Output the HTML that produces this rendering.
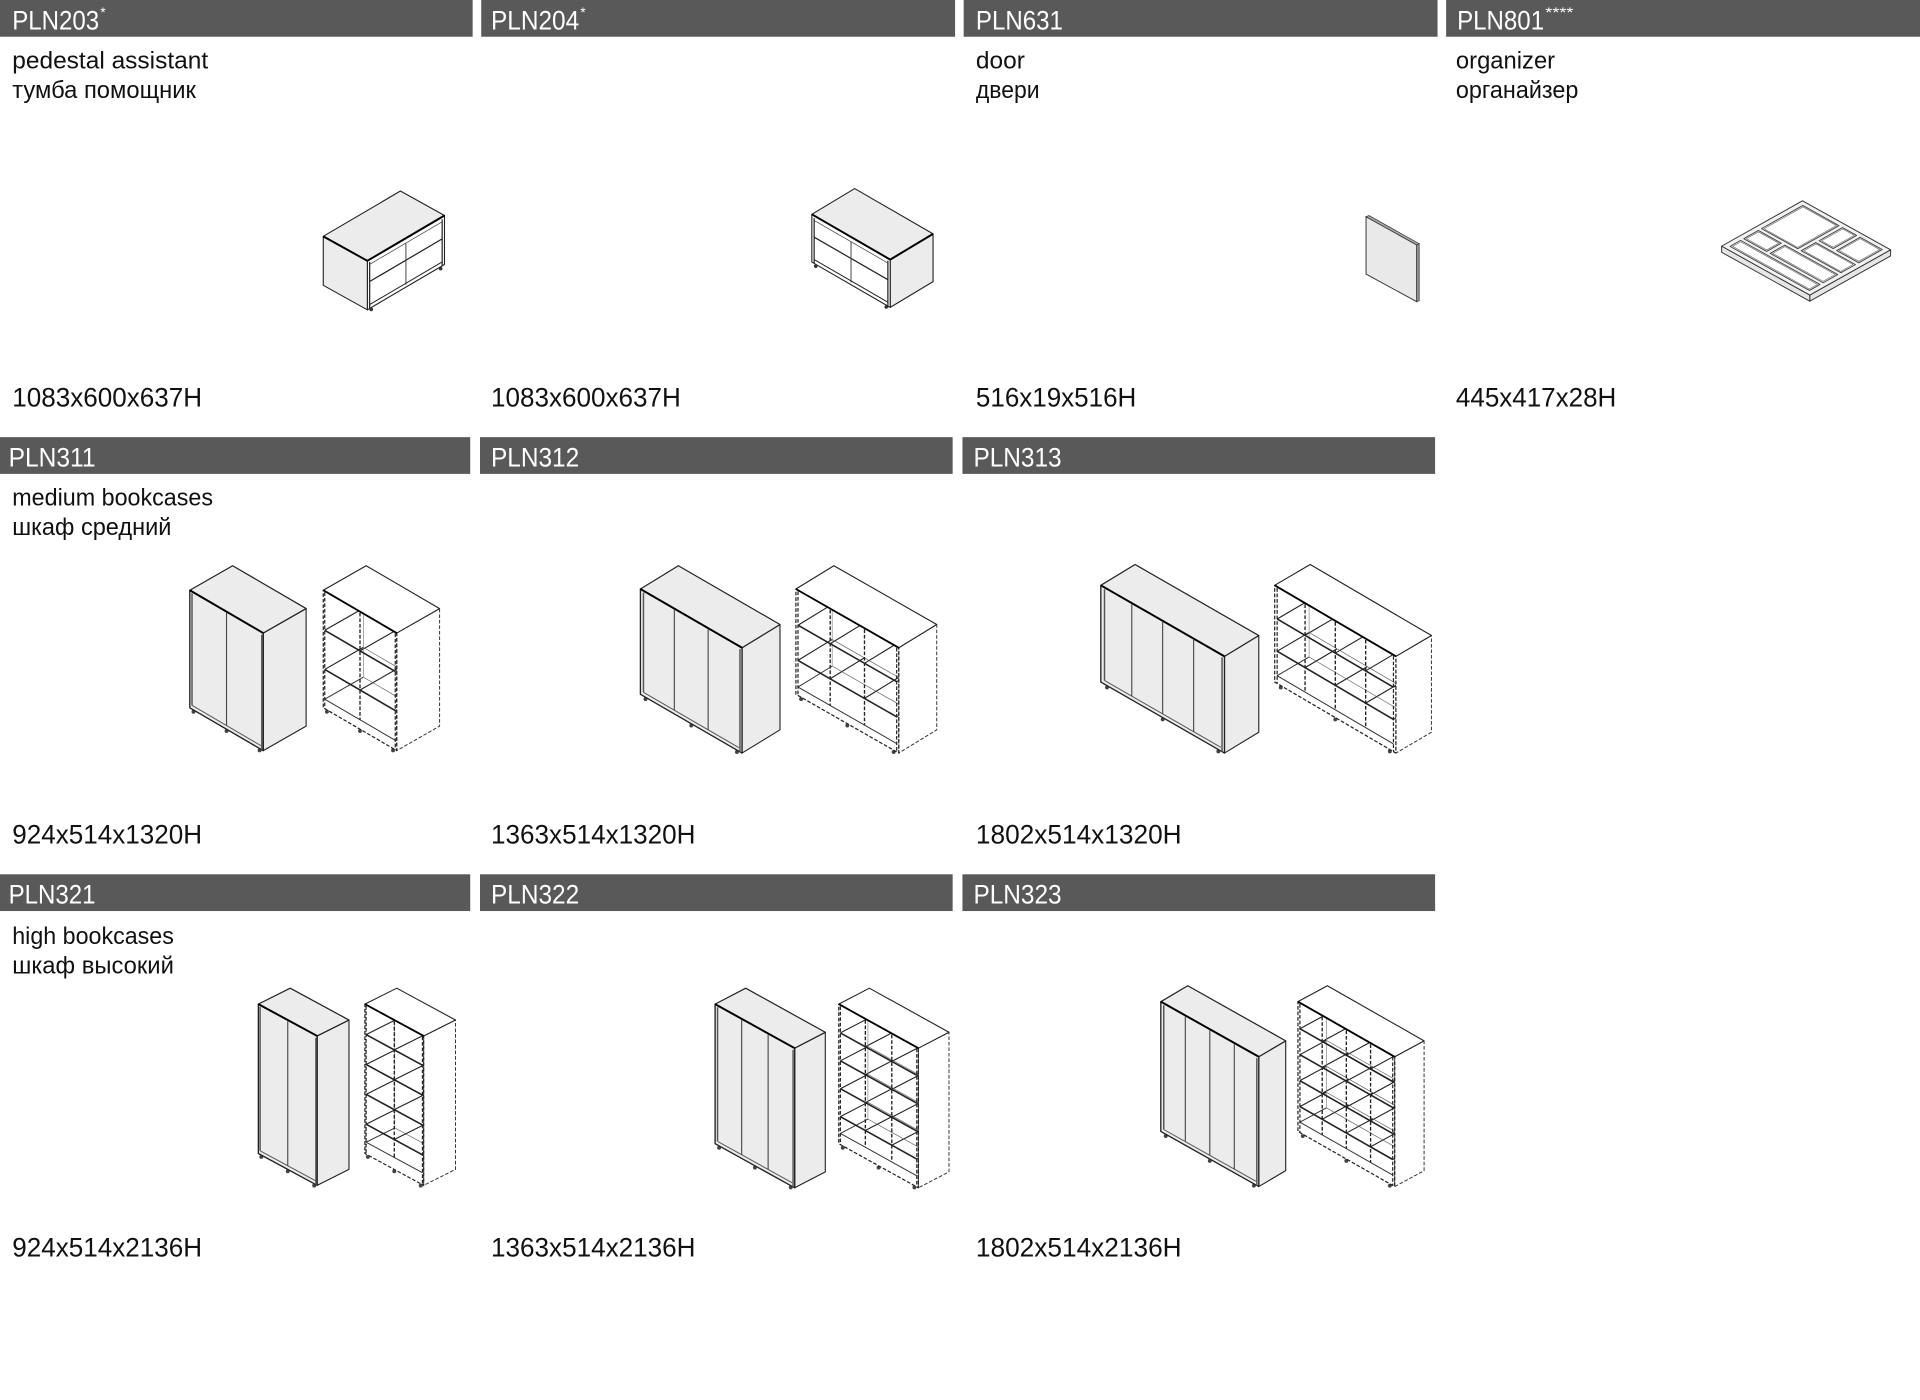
<!DOCTYPE html>
<html><head><meta charset="utf-8"><style>
html,body{margin:0;padding:0;background:#fff;}
svg{display:block;}
text{font-family:"Liberation Sans Narrow","Liberation Sans",sans-serif;}
</style></head><body>
<svg id="s" xmlns="http://www.w3.org/2000/svg" width="1920" height="1400" viewBox="0 0 1568 1143.3" preserveAspectRatio="none">
<rect width="1568" height="1143.3" fill="#fff"/>
<g fill="#595959">
<rect x="0" y="0" width="386" height="30"/><rect x="393" y="0" width="387" height="30"/><rect x="787" y="0" width="387" height="30"/><rect x="1181" y="0" width="387" height="30"/>
<rect x="0" y="357" width="384" height="30"/><rect x="392" y="357" width="386" height="30"/><rect x="786" y="357" width="386" height="30"/>
<rect x="0" y="714" width="384" height="30"/><rect x="392" y="714" width="386" height="30"/><rect x="786" y="714" width="386" height="30"/>
</g>
<g fill="#fff" font-size="22">
<text x="10" y="24" textLength="71" lengthAdjust="spacingAndGlyphs">PLN203</text><text x="82" y="14" font-size="11">*</text>
<text x="401" y="24" textLength="72" lengthAdjust="spacingAndGlyphs">PLN204</text><text x="474" y="14" font-size="11">*</text>
<text x="797" y="24" textLength="71" lengthAdjust="spacingAndGlyphs">PLN631</text>
<text x="1190" y="24" textLength="71" lengthAdjust="spacingAndGlyphs">PLN801</text><text x="1262" y="14" font-size="11" textLength="23" lengthAdjust="spacingAndGlyphs">****</text>
<text x="7" y="381" textLength="71" lengthAdjust="spacingAndGlyphs">PLN311</text>
<text x="401" y="381" textLength="72" lengthAdjust="spacingAndGlyphs">PLN312</text>
<text x="795" y="381" textLength="72" lengthAdjust="spacingAndGlyphs">PLN313</text>
<text x="7" y="738" textLength="71" lengthAdjust="spacingAndGlyphs">PLN321</text>
<text x="401" y="738" textLength="72" lengthAdjust="spacingAndGlyphs">PLN322</text>
<text x="795" y="738" textLength="72" lengthAdjust="spacingAndGlyphs">PLN323</text>
</g>
<g fill="#111" font-size="20">
<text x="10" y="56" textLength="160" lengthAdjust="spacingAndGlyphs">pedestal assistant</text>
<text x="10" y="80" textLength="150" lengthAdjust="spacingAndGlyphs">тумба помощник</text>
<text x="797" y="56" textLength="40" lengthAdjust="spacingAndGlyphs">door</text>
<text x="797" y="80" textLength="52" lengthAdjust="spacingAndGlyphs">двери</text>
<text x="1189" y="56" textLength="81" lengthAdjust="spacingAndGlyphs">organizer</text>
<text x="1189" y="80" textLength="100" lengthAdjust="spacingAndGlyphs">органайзер</text>
<text x="10" y="413" textLength="164" lengthAdjust="spacingAndGlyphs">medium bookcases</text>
<text x="10" y="437" textLength="130" lengthAdjust="spacingAndGlyphs">шкаф средний</text>
<text x="10" y="771" textLength="132" lengthAdjust="spacingAndGlyphs">high bookcases</text>
<text x="10" y="795" textLength="132" lengthAdjust="spacingAndGlyphs">шкаф высокий</text>
</g>
<g fill="#111" font-size="22">
<text x="10" y="332" textLength="155" lengthAdjust="spacingAndGlyphs">1083x600x637H</text>
<text x="401" y="332" textLength="155" lengthAdjust="spacingAndGlyphs">1083x600x637H</text>
<text x="797" y="332" textLength="131" lengthAdjust="spacingAndGlyphs">516x19x516H</text>
<text x="1189" y="332" textLength="131" lengthAdjust="spacingAndGlyphs">445x417x28H</text>
<text x="10" y="689" textLength="155" lengthAdjust="spacingAndGlyphs">924x514x1320H</text>
<text x="401" y="689" textLength="167" lengthAdjust="spacingAndGlyphs">1363x514x1320H</text>
<text x="797" y="689" textLength="168" lengthAdjust="spacingAndGlyphs">1802x514x1320H</text>
<text x="10" y="1026" textLength="155" lengthAdjust="spacingAndGlyphs">924x514x2136H</text>
<text x="401" y="1026" textLength="167" lengthAdjust="spacingAndGlyphs">1363x514x2136H</text>
<text x="797" y="1026" textLength="168" lengthAdjust="spacingAndGlyphs">1802x514x2136H</text>
</g>
<g id="d"></g>
<polygon points="1115.6,177 1157,200 1157,246.4 1115.6,223.8" fill="#e9e9e9" stroke="#333" stroke-width="0.8"/>
<polygon points="1115.6,177 1118,176 1159,199 1157,200" fill="#aaa" stroke="#333" stroke-width="0.6"/>
<polygon points="1157,200 1159,199 1159,245.5 1157,246.4" fill="#999" stroke="#333" stroke-width="0.6"/>
</svg>
<script>
var g=document.getElementById('d'),o='';
function P(a){return a.map(function(p){return p[0].toFixed(1)+','+p[1].toFixed(1)}).join(' ')}
function add(p,x,y){return [p[0]+x,p[1]+y]}
function poly(pts,fill,st,w,dash){o+='<polygon points="'+P(pts)+'" fill="'+fill+'" stroke="'+st+'" stroke-width="'+w+'"'+(dash?' stroke-dasharray="'+dash+'"':'')+' stroke-linejoin="round"/>';}
function line(a,b,st,w,dash){o+='<line x1="'+a[0].toFixed(1)+'" y1="'+a[1].toFixed(1)+'" x2="'+b[0].toFixed(1)+'" y2="'+b[1].toFixed(1)+'" stroke="'+st+'" stroke-width="'+w+'"'+(dash?' stroke-dasharray="'+dash+'"':'')+'/>';}
function pt(F,L,R,u,v,h){return [F[0]+L[0]*u+R[0]*v,F[1]+L[1]*u+R[1]*v+h];}
function closed(F,L,R,H,n){
 var A=pt(F,L,R,1,0,0),B=pt(F,L,R,1,1,0),C=pt(F,L,R,0,1,0);
 [0.05,0.5,0.95].forEach(function(u){var p=pt(F,L,R,u,0,H);o+='<circle cx="'+p[0]+'" cy="'+(p[1]+1.5)+'" r="1.6" fill="#444"/>';});
 poly([F,C,add(C,0,H),add(F,0,H)],'#ececec','#222',0.9);
 poly([F,A,add(A,0,H),add(F,0,H)],'#ececec','#222',1.1);
 poly([F,A,B,C],'#ececec','#222',1);
 line(F,A,'#000',1.6);
 var a2=pt(F,L,R,0.97,0,1.5),a3=pt(F,L,R,0.97,0,H-3);line(a2,a3,'#555',1.2);
 var f2=pt(F,L,R,0.02,0,2),f3=pt(F,L,R,0.02,0,H);line(f2,f3,'#555',1.2);
 line(pt(F,L,R,0.03,0,H-3),pt(F,L,R,0.97,0,H-3),'#555',0.8);
 for(var i=1;i<n;i++){var u=i/n;line(pt(F,L,R,u,0,1),pt(F,L,R,u,0,H-3),'#444',0.9);}
}
function open(F,L,R,H,n,m){
 var A=pt(F,L,R,1,0,0),B=pt(F,L,R,1,1,0),C=pt(F,L,R,0,1,0);
 [0.05,0.5,0.95].forEach(function(u){var p=pt(F,L,R,u,0,H);o+='<circle cx="'+p[0]+'" cy="'+(p[1]+1.5)+'" r="1.6" fill="#444"/>';});
 for(var j=1;j<m;j++){var h=H*j/m;
  for(var i=0;i<=n;i++){var u=Math.min(0.98,Math.max(0.02,i/n));line(pt(F,L,R,u,0,h),pt(F,L,R,u,0.9,h),'#222',0.9);}
  line(pt(F,L,R,0.98,0.9,h),pt(F,L,R,0.02,0.9,h),'#555',0.5);
 }
 line(pt(F,L,R,0.98,0,H*0.92),pt(F,L,R,0.98,0.9,H*0.92),'#333',0.8);
 line(pt(F,L,R,0.98,0.9,H*0.92),pt(F,L,R,0.02,0.9,H*0.92),'#555',0.5);
 line(pt(F,L,R,0.98,0.9,0),pt(F,L,R,0.98,0.9,H*0.92),'#777',0.5);
 poly([F,C,add(C,0,H),add(F,0,H)],'#fff','#333',0.8,'3,1.5');
 poly([F,A,B,C],'#fff','#222',0.9);
 poly([F,A,add(A,0,H),add(F,0,H)],'none','#222',1,'3,1.5');
 line(F,A,'#000',1.5);
 for(var j=1;j<m;j++){var h=H*j/m;line(pt(F,L,R,0.02,0,h),pt(F,L,R,0.98,0,h),'#222',1.3);}
 line(pt(F,L,R,0.02,0,H*0.92),pt(F,L,R,0.98,0,H*0.92),'#333',0.8);
 for(var i=1;i<n;i++){var u=i/n;line(pt(F,L,R,u,0,1),pt(F,L,R,u,0,H*0.92),'#222',1.1,'3,1.5');}
 line(pt(F,L,R,0.98,0,1),pt(F,L,R,0.98,0,H),'#222',1,'3,1.5');
 line(pt(F,L,R,0.02,0,1),pt(F,L,R,0.02,0,H),'#222',1,'3,1.5');
}
function ped(F,L,R,H,frontOnL){
 var A=pt(F,L,R,1,0,0),B=pt(F,L,R,1,1,0),C=pt(F,L,R,0,1,0);
 var fL=frontOnL?'#fff':'#ececec', fR=frontOnL?'#ececec':'#fff';
 poly([F,C,add(C,0,H),add(F,0,H)],fR,'#222',0.9);
 poly([F,A,add(A,0,H),add(F,0,H)],fL,'#222',0.9);
 poly([F,A,B,C],'#ececec','#222',0.9);
 line(F,A,'#000',1.6);line(F,C,'#000',1.6);
 var Lf=frontOnL?L:R, Rf=frontOnL?R:L;
 var q=function(u,v,h){return pt(F,Lf,Rf,u,v,h);};
 line(q(0.03,0,2),q(0.03,0,H),'#222',1);line(q(0.97,0,2),q(0.97,0,H),'#222',1);
 line(q(0.03,0,H*0.45),q(0.97,0,H*0.45),'#222',1);
 line(q(0.5,0,H*0.1),q(0.5,0,H*0.95),'#444',0.8);
 line(q(0.03,0,H*0.92),q(0.97,0,H*0.92),'#222',0.8);
 line(q(0.03,0,H*0.1),q(0.97,0,H*0.1),'#444',0.6);
 [0.05,0.95].forEach(function(u){var p=q(u,0,H);o+='<circle cx="'+p[0]+'" cy="'+(p[1]+1.5)+'" r="1.5" fill="#333"/>';});
}
ped([300,213],[-36,-20],[63,-37],40,false);
ped([727,212],[-64,-37],[35,-21],39,true);
(function(){var F=[1478,241],L=[-72,-40],R=[66,-37],H=5;
 var A=pt(F,L,R,1,0,0),B=pt(F,L,R,1,1,0),C=pt(F,L,R,0,1,0);
 poly([F,C,add(C,0,H),add(F,0,H)],'#e6e6e6','#333',0.8);
 poly([F,A,add(A,0,H),add(F,0,H)],'#e6e6e6','#333',0.8);
 poly([F,A,B,C],'#f2f2f2','#333',0.8);
 var r=function(u1,v1,u2,v2){poly([pt(F,L,R,u1,v1,0),pt(F,L,R,u2,v1,0),pt(F,L,R,u2,v2,0),pt(F,L,R,u1,v2,0)],'#fff','#444',0.8);poly([pt(F,L,R,u1+0.015,v1+0.015,0),pt(F,L,R,u2-0.015,v1+0.015,0),pt(F,L,R,u2-0.015,v2-0.015,0),pt(F,L,R,u1+0.015,v2-0.015,0)],'none','#666',0.5);};
 r(0.05,0.05,0.95,0.18);
 r(0.05,0.22,0.65,0.4);
 r(0.05,0.44,0.5,0.62);
 r(0.05,0.66,0.3,0.95);
 r(0.34,0.66,0.5,0.95);
 r(0.54,0.44,0.95,0.95);
 r(0.69,0.22,0.95,0.4);
})();
closed([215,517],[-60,-35],[35,-20],96,2);
open([324,517],[-60,-35],[35,-20],96,2,3);
closed([606,529],[-83,-48],[31,-19],86,3);
open([734,529],[-84,-48],[31,-19],86,3,3);
closed([1000,536],[-101,-58],[28,-17],79,4);
open([1140,536],[-99,-58],[29,-17],79,4,3);
closed([259,846],[-48,-26],[26,-13],122,2);
open([346,846],[-48,-26],[26,-13],122,2,5);
closed([649,856],[-65,-36],[25,-13],114,3);
open([750,856],[-65,-36],[25,-13],114,3,5);
closed([1028,863],[-80,-45],[22,-13],106,4);
open([1139,863],[-79,-45],[24,-13],106,4,5);
g.innerHTML=o;
</script>
</body></html>
